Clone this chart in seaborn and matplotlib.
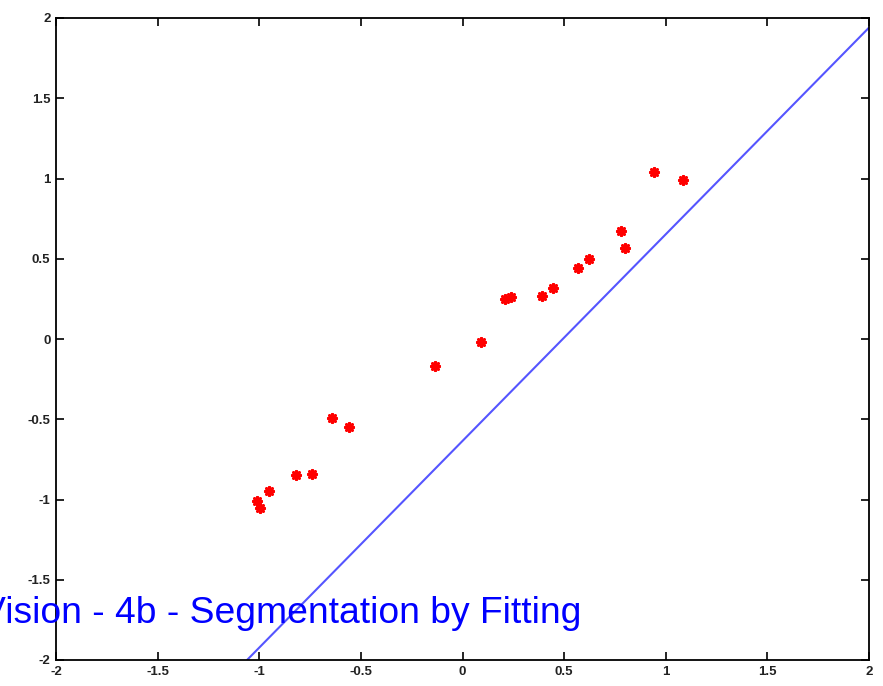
import matplotlib
matplotlib.use("Agg")
import matplotlib.pyplot as plt
import seaborn as sns
import pandas as pd

# data points (red asterisks)
pts_x = [-1.012, -0.998, -0.953, -0.82, -0.74, -0.64, -0.56, -0.135, 0.09,
         0.21, 0.24, 0.39, 0.445, 0.57, 0.62, 0.78, 0.80, 0.94, 1.085]
pts_y = [-1.01, -1.05, -0.95, -0.85, -0.84, -0.49, -0.55, -0.17, -0.02,
         0.25, 0.26, 0.27, 0.32, 0.44, 0.50, 0.67, 0.57, 1.04, 0.99]

# fitted line endpoints
line_x = [-1.06, 2.0]
line_y = [-2.0, 1.94]

ticks = [-2, -1.5, -1, -0.5, 0, 0.5, 1, 1.5, 2]
tick_labels = ["-2", "-1.5", "-1", "-0.5", "0", "0.5", "1", "1.5", "2"]
caption = "Vision - 4b - Segmentation by Fitting"

sns.set_theme(style="ticks")
plt.rcParams['font.family'] = ['Liberation Sans', 'DejaVu Sans']

fig = plt.figure(figsize=(8.83, 6.86), dpi=100)
ax = fig.add_axes([56/883, 26/686, (869-56)/883, (660-18)/686])

df_pts = pd.DataFrame({"x": pts_x, "y": pts_y})
df_line = pd.DataFrame({"x": line_x, "y": line_y})

sns.lineplot(data=df_line, x="x", y="y", ax=ax, color="#5555ff", lw=1.5)
sns.scatterplot(data=df_pts, x="x", y="y", ax=ax, marker=(8, 2, 0), s=36,
                color="red", edgecolor="red", linewidth=2.0, zorder=3)

ax.set_xlim(-2, 2)
ax.set_ylim(-2, 2)
ax.set_xticks(ticks)
ax.set_xticklabels(tick_labels)
ax.set_yticks(ticks)
ax.set_yticklabels(tick_labels)
ax.set_xlabel("")
ax.set_ylabel("")
ax.tick_params(direction="in", length=6, width=1.2, top=True, right=True,
               labelsize=9.5, pad=4, colors="black")
for lab in ax.get_xticklabels() + ax.get_yticklabels():
    lab.set_fontweight("bold")
    lab.set_color("#222222")
for s in ax.spines.values():
    s.set_visible(True)
    s.set_linewidth(1.3)
    s.set_color("black")

fig.text(-18.6/883, (686-623)/686, caption, color="#0000ff", fontsize=26.8,
         ha="left", va="baseline", zorder=10)

fig.savefig("out.png", dpi=100)
